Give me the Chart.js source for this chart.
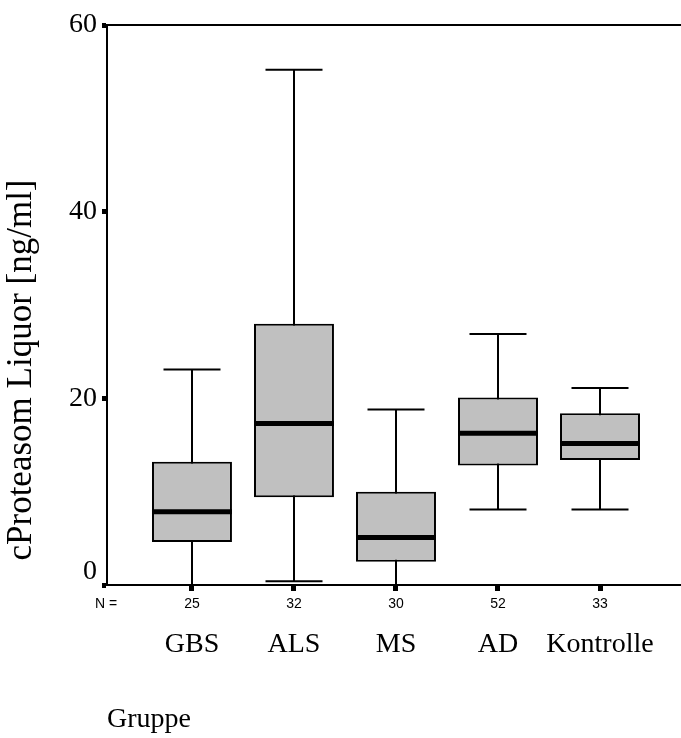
<!DOCTYPE html>
<html>
<head>
<meta charset="utf-8">
<script src="https://cdn.jsdelivr.net/npm/chart.js@4.4.1/dist/chart.umd.min.js"></script>
<style>
  html, body { margin: 0; padding: 0; background: #fff; }
  #wrap { width: 681px; height: 738px; }
</style>
</head>
<body>
<div id="wrap"><canvas id="boxes"></canvas></div>
<script>
// cProteasom im Liquor je Gruppe (Boxplot)
const groups = ['GBS', 'ALS', 'MS', 'AD', 'Kontrolle']
const counts = [25, 32, 30, 52, 33]
const whiskerLow = [0, 0.4, 0, 8.1, 8.1]
const quartile1 = [4.6, 9.4, 2.5, 12.8, 13.4]
const medians = [7.85, 17.3, 5.1, 16.25, 15.15]
const quartile3 = [13.2, 28.0, 10.0, 20.1, 18.4]
const whiskerHigh = [23.1, 55.2, 18.8, 26.9, 21.1]
const yTicks = [0, 20, 40, 60]

const serif = '"Liberation Serif", "Times New Roman", serif'
const sans = '"Liberation Sans", Arial, sans-serif'

const indexTicks = () => groups.map((g, i) => ({ value: i }))

// whiskers under the boxes, medians + frame + labels on top
const boxplotExtras = {
  id: 'boxplotExtras',
  beforeDatasetsDraw(chart) {
    const { ctx, scales: { x, y } } = chart
    const capHalf = 28.5
    ctx.save()
    ctx.strokeStyle = '#000'
    ctx.lineWidth = 2
    groups.forEach((g, i) => {
      const cx = Math.round(x.getPixelForValue(i))
      const lo = y.getPixelForValue(whiskerLow[i])
      const hi = y.getPixelForValue(whiskerHigh[i])
      ctx.beginPath()
      ctx.moveTo(cx, lo)
      ctx.lineTo(cx, hi)
      ctx.moveTo(cx - capHalf, hi)
      ctx.lineTo(cx + capHalf, hi)
      ctx.moveTo(cx - capHalf, lo)
      ctx.lineTo(cx + capHalf, lo)
      ctx.stroke()
    })
    ctx.restore()
  },
  afterDatasetsDraw(chart) {
    const { ctx, chartArea, scales: { y } } = chart
    const meta = chart.getDatasetMeta(0)
    ctx.save()
    ctx.strokeStyle = '#000'
    ctx.lineWidth = 5
    meta.data.forEach((bar, i) => {
      const my = y.getPixelForValue(medians[i])
      ctx.beginPath()
      ctx.moveTo(bar.x - bar.width / 2, my)
      ctx.lineTo(bar.x + bar.width / 2, my)
      ctx.stroke()
    })

    // top frame line
    const top = y.getPixelForValue(60)
    ctx.lineWidth = 2
    ctx.beginPath()
    ctx.moveTo(chartArea.left - 1, top)
    ctx.lineTo(chartArea.right, top)
    ctx.stroke()

    // "N =" in front of the group sizes
    ctx.fillStyle = '#000'
    ctx.font = '14px ' + sans
    ctx.textAlign = 'center'
    ctx.textBaseline = 'middle'
    ctx.fillText('N =', chartArea.left - 1, 604)

    // y axis title
    ctx.font = '35px ' + serif
    ctx.translate(22, 370)
    ctx.rotate(-Math.PI / 2)
    ctx.fillText('cProteasom Liquor [ng/ml]', 0, 0)
    ctx.restore()
  }
}

new Chart(document.getElementById('boxes'), {
  type: 'bar',
  data: {
    datasets: [{
      data: groups.map((g, i) => ({ x: i, y: [quartile1[i], quartile3[i]] })),
      backgroundColor: '#c0c0c0',
      borderColor: '#000',
      borderWidth: 2,
      borderSkipped: false,
      barPercentage: 0.784,
      categoryPercentage: 1
    }]
  },
  options: {
    responsive: true,
    maintainAspectRatio: false,
    animation: false,
    layout: { padding: { top: 25, left: 0, right: 0, bottom: 0 } },
    plugins: {
      legend: { display: false },
      tooltip: { enabled: false }
    },
    scales: {
      x: {
        type: 'linear',
        position: 'bottom',
        weight: 0,
        offset: false,
        min: -0.833,
        max: 4.794,
        afterBuildTicks: scale => { scale.ticks = indexTicks() },
        afterFit: scale => { scale.height = 30 },
        grid: {
          offset: false,
          drawOnChartArea: false,
          color: '#000',
          tickLength: 6,
          tickWidth: 5
        },
        border: { color: '#000', width: 2 },
        ticks: {
          color: '#000',
          font: { family: sans, size: 14 },
          padding: 5,
          maxRotation: 0,
          callback: (v) => counts[v]
        }
      },
      x2: {
        type: 'linear',
        position: 'bottom',
        weight: 1,
        offset: false,
        min: -0.833,
        max: 4.794,
        afterBuildTicks: scale => { scale.ticks = indexTicks() },
        afterFit: scale => { scale.height = 123 },
        grid: { display: false, offset: false },
        border: { display: false },
        ticks: {
          color: '#000',
          font: { family: serif, size: 28 },
          padding: 5,
          maxRotation: 0,
          callback: (v) => groups[v]
        },
        title: {
          display: true,
          text: 'Gruppe',
          align: 'start',
          color: '#000',
          font: { family: serif, size: 28 },
          padding: { top: 0, bottom: 2 }
        }
      },
      y: {
        min: 0,
        max: 60,
        afterBuildTicks: scale => { scale.ticks = yTicks.map(v => ({ value: v })) },
        afterFit: scale => { scale.width = 107 },
        grid: {
          drawOnChartArea: false,
          color: '#000',
          tickLength: 5,
          tickWidth: 5
        },
        border: { color: '#000', width: 2 },
        ticks: {
          color: '#000',
          font: { family: serif, size: 28, lineHeight: 0.95 },
          padding: 5,
          // the zero label sits a little above its tick
          callback: (v) => v === 0 ? ['0', ''] : String(v)
        }
      }
    }
  },
  plugins: [boxplotExtras]
})
</script>
</body>
</html>
